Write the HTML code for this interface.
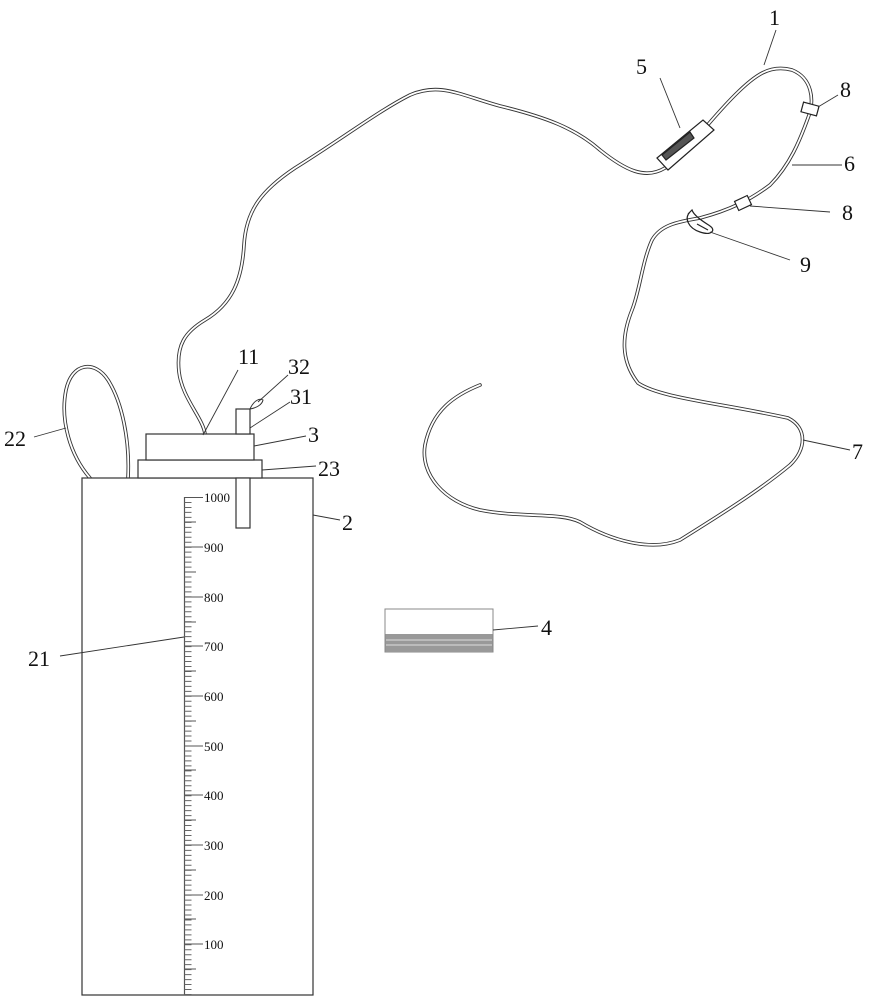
<!DOCTYPE html>
<html><head><meta charset="utf-8"><style>
html,body{margin:0;padding:0;background:#fff;}
svg{display:block;}
text{font-family:"Liberation Serif",serif;fill:#111;}
</style></head><body>
<svg width="887" height="1000" viewBox="0 0 887 1000" xmlns="http://www.w3.org/2000/svg">
<!-- tube -->
<g fill="none" stroke-linecap="round" stroke-linejoin="round">
<path d="M205,434 C203,418 182,398 179,372 C176,345 185,332 205,320 C232,304 242,280 244,245 C246,210 262,190 295,168 C340,140 380,110 410,95 C440,82 460,95 500,106 C545,117 575,128 600,150 C625,170 645,180 665,168 C690,150 705,125 735,95 C755,75 770,64 792,70 C812,78 815,100 808,118 C800,140 790,165 770,185 C750,200 730,210 700,218 C675,222 660,226 652,240 C642,262 640,290 632,310 C622,335 620,360 638,383 C660,398 720,403 788,418 C808,428 806,450 790,465 C760,490 720,515 680,540 C650,552 610,540 580,522 C560,512 520,518 480,510 C445,502 420,475 425,445 C432,410 455,395 480,385" stroke="#333" stroke-width="3.6"/>
<path d="M205,434 C203,418 182,398 179,372 C176,345 185,332 205,320 C232,304 242,280 244,245 C246,210 262,190 295,168 C340,140 380,110 410,95 C440,82 460,95 500,106 C545,117 575,128 600,150 C625,170 645,180 665,168 C690,150 705,125 735,95 C755,75 770,64 792,70 C812,78 815,100 808,118 C800,140 790,165 770,185 C750,200 730,210 700,218 C675,222 660,226 652,240 C642,262 640,290 632,310 C622,335 620,360 638,383 C660,398 720,403 788,418 C808,428 806,450 790,465 C760,490 720,515 680,540 C650,552 610,540 580,522 C560,512 520,518 480,510 C445,502 420,475 425,445 C432,410 455,395 480,385" stroke="#fff" stroke-width="1.8"/>
<!-- loop 22 -->
<path d="M90,478 C70,455 60,420 66,390 C72,362 95,360 108,380 C122,402 130,440 128,478" stroke="#333" stroke-width="3.6"/>
<path d="M90,478 C70,455 60,420 66,390 C72,362 95,360 108,380 C122,402 130,440 128,478" stroke="#fff" stroke-width="1.8"/>
</g>
<!-- clamp 5 -->
<g stroke="#222" stroke-width="1.2" fill="#fff">
<polygon points="657,158 703,120 714,130 668,170"/>
<polygon points="662,155 690,132 694,138 666,160" fill="#555"/>
</g>
<!-- clips 8 -->
<g stroke="#222" stroke-width="1.2" fill="#fff">
<rect x="802" y="104" width="16" height="10" transform="rotate(15 810 109)"/>
<rect x="736" y="198" width="14" height="10" transform="rotate(-25 743 203)"/>
</g>
<!-- hook 9 -->
<g stroke="#222" stroke-width="1.2" fill="none">
<path d="M690,212 C684,218 688,228 700,232 C712,236 716,230 710,226 C704,222 694,216 692,210 L688,214"/>
<line x1="697" y1="224" x2="708" y2="230"/>
</g>
<!-- bottle -->
<g stroke="#333" stroke-width="1.2" fill="#fff">
<rect x="82" y="478" width="231" height="517"/>
<rect x="138" y="460" width="124" height="18"/>
<rect x="146" y="434" width="108" height="26"/>
<rect x="236" y="409" width="14" height="25"/>
<rect x="236" y="478" width="14" height="50"/>
</g>
<path d="M250,409 C254,400 260,398 263,400 C262,405 256,408 250,409 Z" fill="#fff" stroke="#333" stroke-width="1"/>
<!-- scale -->
<line x1="184.5" y1="497" x2="184.5" y2="995" stroke="#555" stroke-width="1.2"/>
<line x1="188" y1="497" x2="188" y2="995" stroke="#666" stroke-width="7" stroke-dasharray="1 3.97"/>
<g stroke="#555" stroke-width="1">
<line x1="184" y1="497.5" x2="203" y2="497.5"/><line x1="184" y1="522" x2="196" y2="522"/>
<line x1="184" y1="547" x2="203" y2="547"/><line x1="184" y1="572" x2="196" y2="572"/>
<line x1="184" y1="597" x2="203" y2="597"/><line x1="184" y1="622" x2="196" y2="622"/>
<line x1="184" y1="646" x2="203" y2="646"/><line x1="184" y1="671" x2="196" y2="671"/>
<line x1="184" y1="696" x2="203" y2="696"/><line x1="184" y1="721" x2="196" y2="721"/>
<line x1="184" y1="746" x2="203" y2="746"/><line x1="184" y1="770" x2="196" y2="770"/>
<line x1="184" y1="795" x2="203" y2="795"/><line x1="184" y1="820" x2="196" y2="820"/>
<line x1="184" y1="845" x2="203" y2="845"/><line x1="184" y1="870" x2="196" y2="870"/>
<line x1="184" y1="895" x2="203" y2="895"/><line x1="184" y1="919" x2="196" y2="919"/>
<line x1="184" y1="944" x2="203" y2="944"/><line x1="184" y1="969" x2="196" y2="969"/>
</g>
<g font-size="13">
<text x="204" y="502">1000</text><text x="204" y="552">900</text><text x="204" y="602">800</text>
<text x="204" y="651">700</text><text x="204" y="701">600</text><text x="204" y="751">500</text>
<text x="204" y="800">400</text><text x="204" y="850">300</text><text x="204" y="900">200</text>
<text x="204" y="949">100</text>
</g>
<!-- box 4 -->
<rect x="385" y="609" width="108" height="43" fill="#fff" stroke="#888" stroke-width="1"/>
<rect x="385.5" y="634" width="107" height="18" fill="#999"/>
<line x1="386" y1="640" x2="492" y2="640" stroke="#ddd"/>
<line x1="386" y1="645" x2="492" y2="645" stroke="#ddd"/>
<!-- leader lines -->
<g stroke="#333" stroke-width="0.9">
<line x1="764" y1="65" x2="776" y2="30"/>
<line x1="680" y1="128" x2="660" y2="78"/>
<line x1="818" y1="107" x2="838" y2="95"/>
<line x1="792" y1="165" x2="842" y2="165"/>
<line x1="750" y1="206" x2="830" y2="212"/>
<line x1="710" y1="232" x2="790" y2="260"/>
<line x1="803" y1="440" x2="850" y2="450"/>
<line x1="493" y1="630" x2="538" y2="626"/>
<line x1="313" y1="515" x2="340" y2="520"/>
<line x1="262" y1="470" x2="316" y2="466"/>
<line x1="254" y1="446" x2="306" y2="436"/>
<line x1="250" y1="428" x2="290" y2="402"/>
<line x1="258" y1="402" x2="288" y2="375"/>
<line x1="203" y1="435" x2="238" y2="370"/>
<line x1="34" y1="437" x2="66" y2="428"/>
<line x1="60" y1="656" x2="184" y2="637"/>
</g>
<g font-size="22">
<text x="769" y="25">1</text>
<text x="636" y="74">5</text>
<text x="840" y="97">8</text>
<text x="844" y="171">6</text>
<text x="842" y="220">8</text>
<text x="800" y="272">9</text>
<text x="852" y="459">7</text>
<text x="541" y="635">4</text>
<text x="342" y="530">2</text>
<text x="318" y="476">23</text>
<text x="308" y="442">3</text>
<text x="290" y="404">31</text>
<text x="288" y="374">32</text>
<text x="238" y="364">11</text>
<text x="4" y="446">22</text>
<text x="28" y="666">21</text>
</g>
</svg>
</body></html>
